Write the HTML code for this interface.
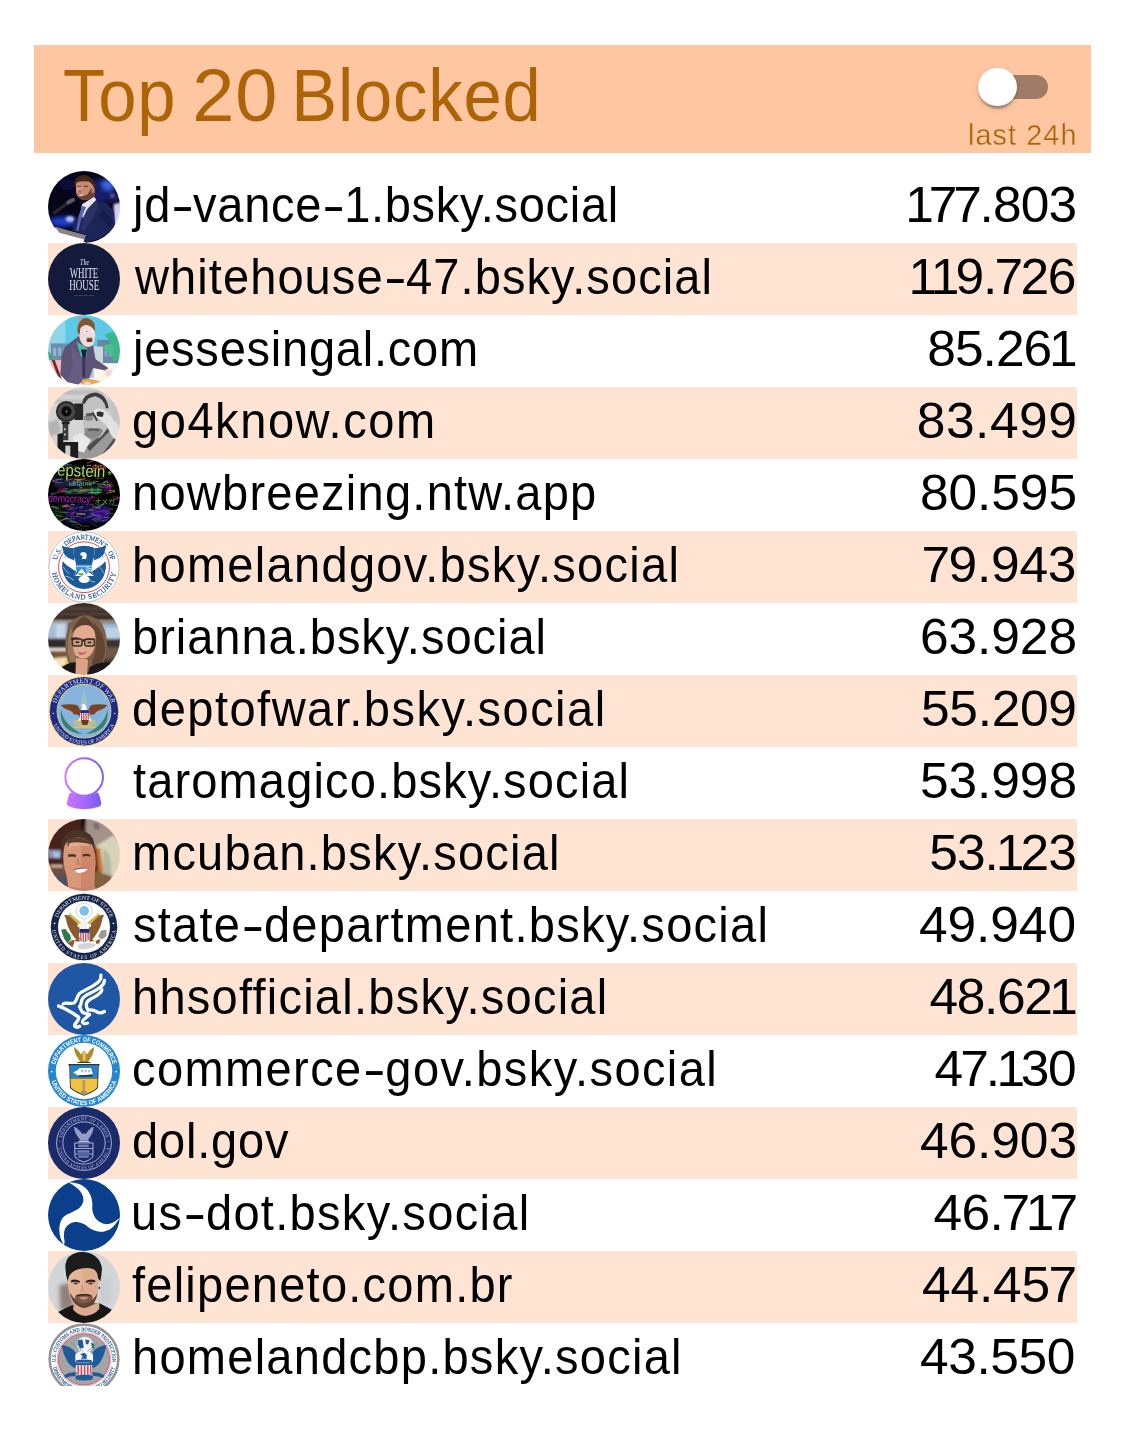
<!DOCTYPE html>
<html lang="en">
<head>
<meta charset="utf-8">
<title>Top 20 Blocked</title>
<meta name="viewport" content="width=1125">
<style>
html,body{margin:0;padding:0;background:#fff;}
body{width:1125px;height:1430px;position:relative;overflow:hidden;font-family:"Liberation Sans",sans-serif;color:#000;}
.hd{position:absolute;left:34px;top:45px;width:1057px;height:108px;background:#ffc6a2;}
.ttl{position:absolute;left:63.4px;top:45.7px;margin:0;font-weight:400;font-size:74px;line-height:100px;color:#ad6406;white-space:nowrap;letter-spacing:0.8px;word-spacing:0px;transform:scaleX(0.93);transform-origin:0 50%;}
.sw{position:absolute;left:978px;top:67px;width:70px;height:40px;}
.sw .tr{position:absolute;left:7.3px;top:8.1px;width:62.4px;height:23.5px;border-radius:12px;background:#9f7c66;}
.sw .th{position:absolute;left:0;top:0.5px;width:38.8px;height:38.8px;border-radius:50%;background:#fff;box-shadow:0 4.8px 2.4px -2.4px rgba(0,0,0,.2),0 2.4px 2.4px 0 rgba(0,0,0,.14),0 2.4px 7.2px 0 rgba(0,0,0,.12);}
.lbl{position:absolute;right:47.4px;top:118.8px;font-size:28.8px;line-height:32px;color:#ad6406;white-space:nowrap;letter-spacing:1.1px;-webkit-text-stroke:.35px #ffc6a2;}
ul{list-style:none;margin:0;padding:0;position:absolute;left:48px;top:171px;width:1029px;}
li{position:relative;height:72px;width:1029px;}
li:nth-child(even){background:#ffe3d3;}
li svg{position:absolute;left:0;top:0;width:72px;height:72px;display:block;border-radius:50%;overflow:hidden;}
.defs{position:absolute;width:0;height:0;overflow:hidden;}
.cut{position:absolute;left:0;top:1386px;width:1125px;height:44px;background:#fff;}
li .h{position:absolute;top:-2.3px;line-height:72px;font-size:49.5px;white-space:nowrap;transform:scaleX(0.95);transform-origin:0 50%;}
li .n{position:absolute;top:-2.3px;line-height:72px;font-size:49.5px;white-space:nowrap;transform:scaleX(1.04);transform-origin:100% 50%;}
li .hy{display:inline-block;transform:scaleX(1.45);transform-origin:35% 50%;margin:0 2.6px 0 3.4px;}
li .n .d1{margin:0 -2.6px 0 -2.2px;}
li .n .d7{margin:0 -1.5px;}
</style>
</head>
<body>
<svg class="defs" width="0" height="0" aria-hidden="true"><defs><filter id="b4" x="-20%" y="-20%" width="140%" height="140%"><feGaussianBlur stdDeviation="4"/></filter><filter id="b8" x="-20%" y="-20%" width="140%" height="140%"><feGaussianBlur stdDeviation="8"/></filter><filter id="b14" x="-30%" y="-30%" width="160%" height="160%"><feGaussianBlur stdDeviation="14"/></filter><filter id="b30" x="-50%" y="-50%" width="200%" height="200%"><feGaussianBlur stdDeviation="30"/></filter></defs></svg>
<header class="hd"></header>
<h1 class="ttl">Top <span style="display:inline-block;transform:scaleX(1.1);transform-origin:0 50%;margin-left:-4.2px;margin-right:1.4px">20</span> Blocked</h1>
<div class="sw"><span class="tr"></span><span class="th"></span></div>
<div class="lbl">last 24h</div>
<ul>
<li><svg viewBox="0 0 72 72" role="img" aria-label="jd-vance-1 avatar"><g transform="translate(-4 -4) scale(.071111)" opacity=".999">
<rect width="1125" height="1125" fill="#06051a"/>
<g filter="url(#b30)">
<ellipse cx="800" cy="330" rx="220" ry="170" fill="#121a68"/>
<ellipse cx="330" cy="250" rx="110" ry="80" fill="#0a0e40"/>
<ellipse cx="900" cy="250" rx="85" ry="75" fill="#3a68e8"/>
<ellipse cx="270" cy="770" rx="200" ry="70" fill="#1a3cd0"/>
<ellipse cx="980" cy="430" rx="100" ry="70" fill="#1a1c60"/>
</g>
<g filter="url(#b14)">
<path d="M980 520 L1090 500 L1090 860 L980 860Z" fill="#d4ccf6"/>
<ellipse cx="365" cy="730" rx="60" ry="42" fill="#b4bcf4"/>
<ellipse cx="960" cy="405" rx="30" ry="28" fill="#6a6a90"/>
</g>
<g filter="url(#b8)">
<path d="M100 840 L590 965 L575 1125 L0 1125 L0 900Z" fill="#fff"/>
<path d="M150 835 L592 962 L582 1022 L215 925Z" fill="#8c8288"/>
<path d="M735 452 L900 520 L985 630 L1000 800 L960 905 L800 1000 L610 1062 L555 1050 L590 960 L400 900 L415 770 L475 690 L540 560 L640 505Z" fill="#1f2756"/>
<path d="M640 505 L735 452 L760 560 L700 700 L560 900 L520 880 L560 700Z" fill="#2c3268"/>
<path d="M800 600 Q900 640 960 760 L940 880 Q860 760 780 720Z" fill="#191f48"/>
<path d="M535 525 L705 420 L735 460 L610 590 L545 720 L520 610Z" fill="#e6e6f0"/>
<path d="M535 548 L592 562 L525 720 L485 900 L450 888 L498 660Z" fill="#5c62b4"/>
<path d="M150 640 L395 460" stroke="#2c272c" stroke-width="46" stroke-linecap="round" fill="none"/>
<path d="M340 500 L410 462" stroke="#5e565e" stroke-width="56" stroke-linecap="round" fill="none"/>
<path d="M445 250 Q450 170 560 160 Q680 170 705 290 L710 400 Q650 470 545 462 Q480 440 455 380Z" fill="#c48a72"/>
<path d="M470 370 Q520 430 610 385 L660 310 L705 290 L712 400 Q645 475 545 465 Q485 440 470 370Z" fill="#6a4232"/>
<path d="M425 220 Q440 130 560 110 Q680 128 725 240 L722 330 Q700 250 630 205 Q530 190 460 215 L442 290Z" fill="#432618"/>
<ellipse cx="690" cy="330" rx="24" ry="40" fill="#b87a64"/>
<ellipse cx="495" cy="320" rx="38" ry="46" fill="#d69c86"/>
<ellipse cx="505" cy="345" rx="24" ry="20" fill="#c4566a"/>
<path d="M480 385 Q520 410 570 380 Q530 425 490 405Z" fill="#f4eeee"/>
<path d="M470 270 h50 v12 h-50z M560 262 h60 v14 h-60z" fill="#4a2e22"/>
</g>
</g></svg><span class="h" style="left:84.6px;letter-spacing:0.74px">jd<span class="hy">-</span>vance<span class="hy">-</span>1.bsky.social</span><span class="n" style="right:0.6px;letter-spacing:-0.857px"><span class="d1">1</span><span class="d7">7</span><span class="d7">7</span>.803</span></li>
<li><svg viewBox="0 0 72 72" role="img" aria-label="whitehouse-47 avatar"><g opacity=".999">
<rect width="72" height="72" fill="#131a3b"/>
<g fill="#e4e4ee" font-family="'Liberation Serif',serif" text-anchor="middle">
<text x="36.6" y="21.7" font-size="8.8" font-style="italic" textLength="9" lengthAdjust="spacingAndGlyphs">The</text>
<text x="36" y="35.2" font-size="15.2" textLength="28.6" lengthAdjust="spacingAndGlyphs">WHITE</text>
<text x="36.2" y="47" font-size="15" textLength="30" lengthAdjust="spacingAndGlyphs">HOUSE</text>
<text x="36.2" y="52.8" font-size="2.7" textLength="19.8" lengthAdjust="spacing" fill="#a9acc2">WASHINGTON</text>
</g>
</g></svg><span class="h" style="left:86.6px;letter-spacing:1.131px">whitehouse<span class="hy">-</span>47.bsky.social</span><span class="n" style="right:1.6px;letter-spacing:-1.162px"><span class="d1">1</span><span class="d1">1</span>9.<span class="d7">7</span>26</span></li>
<li><svg viewBox="0 0 72 72" role="img" aria-label="jessesingal avatar"><g transform="translate(-4 -4) scale(.071111)" opacity=".999">
<rect width="1125" height="1125" fill="#5ec9e6"/>
<rect x="0" y="0" width="300" height="1125" fill="#8fd6ea"/>
<rect x="480" y="40" width="50" height="500" fill="#9aa8b8"/>
<g filter="url(#b4)">
<path d="M95 455 L330 455 L330 720 L95 720Z" fill="#6d8fb0"/>
<path d="M130 520 h40 v110 h-40z M200 520 h40 v110 h-40z" fill="#9bb4cc"/>
<path d="M750 405 L1080 405 L1080 730 L750 730Z" fill="#6a86a4"/>
<path d="M700 500 L830 500 L830 730 L700 730Z" fill="#c9d6dc"/>
<path d="M850 560 h40 v80 h-40z M910 560 h40 v80 h-40z" fill="#8ea6c4"/>
<path d="M850 335 Q930 290 1000 310 Q1060 400 1080 560 L1080 700 L960 700 Q990 560 930 440 Q900 380 850 335Z" fill="#3db689"/>
<path d="M820 520 Q900 440 960 470 Q990 560 960 650 Q900 560 820 520Z" fill="#49bf90"/>
<path d="M40 560 Q100 580 130 680 L60 700Z" fill="#3aa884"/>
<path d="M0 690 L260 690 L260 1000 L0 1000Z" fill="#f3b6bd"/>
<path d="M200 880 L360 980 L360 1060 L200 1060Z" fill="#fff"/>
<path d="M110 690 L150 690 L250 960 L210 960Z" fill="#6a2a20"/>
<path d="M700 735 L1125 735 L1125 1125 L600 1125 L640 960Z" fill="#fdf6ea"/>
<path d="M640 770 h60 v170 h-60z" fill="#b8c4d4"/>
<path d="M0 1000 L1125 1000 L1125 1125 L0 1125Z" fill="#fff"/>
<path d="M490 350 L300 500 L245 640 L230 900 L330 1000 L480 1035 L560 965 L640 940 L690 800 L870 835 L905 800 L725 680 L690 490 L570 450Z" fill="#5c5478"/>
<path d="M380 480 L520 660 L540 1000 L480 1030 L330 1000 L400 800Z" fill="#665c84"/>
<path d="M455 430 L610 520 L600 640 L520 650Z" fill="#4fb9a7"/>
<path d="M520 540 L605 540 L585 650 L545 660Z" fill="#14203c"/>
<path d="M540 650 h40 v280 h-40z" fill="#3a3458"/>
<path d="M870 815 L960 830 L950 900 L890 930 L860 880Z" fill="#f1d9d6"/>
<path d="M540 960 L680 960 L800 990 L640 1040 L520 1030Z" fill="#eea44a"/>
<path d="M560 990 L660 1000 L640 1050 L580 1040Z" fill="#f1d9d6"/>
<path d="M500 230 Q520 180 620 200 Q720 230 720 340 Q710 440 690 470 Q640 520 590 500 Q520 470 500 380Z" fill="#f3dada"/>
<path d="M470 300 Q460 160 560 100 Q660 90 710 180 L720 300 Q690 220 620 200 Q540 190 510 250 L500 330Z" fill="#7b5832"/>
<path d="M600 385 Q640 360 680 385 L680 430 Q640 445 600 430Z" fill="#5a3a30"/>
<path d="M595 375 Q640 345 690 380 L690 395 Q640 370 595 395Z" fill="#c8b090"/>
<ellipse cx="600" cy="285" rx="28" ry="16" fill="#fff"/>
<ellipse cx="603" cy="287" rx="10" ry="10" fill="#444"/>
<ellipse cx="685" cy="290" rx="20" ry="14" fill="#fff"/>
</g>
</g></svg><span class="h" style="left:85.0px;letter-spacing:0.792px">jessesingal.com</span><span class="n" style="right:3.6px;letter-spacing:-0.969px">85.26<span class="d1">1</span></span></li>
<li><svg viewBox="0 0 72 72" role="img" aria-label="go4know avatar"><g transform="translate(-4 -4) scale(.071111)" opacity=".999">
<rect width="1125" height="1125" fill="#d6d6d6"/>
<g filter="url(#b14)">
<path d="M60 100 h1000 v70 h-1000z M60 230 h500 v50 h-500z" fill="#bdbdbd"/>
<path d="M60 560 L200 500 L240 700 L60 760Z" fill="#b4b4b4"/>
<path d="M880 200 L1080 300 L1080 600 L950 500Z" fill="#c4c4c4"/>
</g>
<g filter="url(#b8)">
<path d="M560 720 L900 620 L1060 800 L1000 1000 L700 1080 L420 1080 L480 800Z" fill="#9a9a9a"/>
<path d="M600 900 L900 640 L940 660 L640 960Z M820 1000 L1000 760 L1030 790 L880 1020Z" fill="#4e4e4e"/>
<path d="M400 760 L520 700 L660 800 L560 980 L440 940Z" fill="#e9e9e9"/>
<path d="M545 250 Q560 150 720 140 Q880 160 905 330 L900 560 Q880 700 780 770 Q660 800 590 720 Q540 600 540 480Z" fill="#c2c2c2"/>
<path d="M560 470 Q600 440 680 450 L690 520 Q620 540 565 520Z" fill="#8a8a8a"/>
<path d="M570 640 Q640 620 700 640 Q780 620 830 660 Q810 760 700 785 Q610 775 570 710Z" fill="#8a8a8a"/>
<path d="M620 650 Q700 630 780 655 L770 680 Q700 660 630 680Z" fill="#5a5a5a"/>
<path d="M535 280 Q560 150 720 135 Q880 150 910 360 L870 350 Q840 210 720 185 Q600 200 570 300Z" fill="#3c3c3c"/>
<path d="M590 430 L680 420 L680 460 L600 470Z" fill="#555"/>
<path d="M700 380 Q800 330 880 400 Q960 500 1060 640 L1060 820 Q960 800 900 640 Q840 520 700 470Z" fill="#e2e2e2"/>
<path d="M740 410 Q790 390 840 420 L830 470 Q780 480 745 460Z" fill="#2e2e2e"/>
<path d="M690 400 L760 520 L740 540 L670 430Z" fill="#404040"/>
<rect x="425" y="290" width="125" height="230" rx="14" fill="#262626"/>
<circle cx="315" cy="400" r="148" fill="#2b2b2b"/>
<circle cx="315" cy="400" r="120" fill="#4a4646"/>
<circle cx="315" cy="400" r="72" fill="#0c0c0c"/>
<circle cx="318" cy="400" r="14" fill="#8a8a8a"/>
<rect x="250" y="540" width="110" height="40" fill="#222"/>
<rect x="262" y="575" width="80" height="230" fill="#3a3a3a"/>
<circle cx="292" cy="650" r="14" fill="#ddd"/><circle cx="292" cy="725" r="14" fill="#ddd"/>
<path d="M190 720 L270 700 L270 830 L480 830 L480 1060 L190 1060Z" fill="#1e1e1e"/>
<rect x="300" y="880" width="70" height="200" fill="#d0d0d0"/>
</g>
</g></svg><span class="h" style="left:84.4px;letter-spacing:1.636px">go4know.com</span><span class="n" style="right:-0.4px;letter-spacing:0.489px">83.499</span></li>
<li><svg viewBox="0 0 72 72" role="img" aria-label="nowbreezing avatar"><g opacity=".999">
<rect width="72" height="72" fill="#030303"/>
<g transform="translate(-4 -4) scale(.071111)" filter="url(#b14)">
<path d="M280 680 L900 700 L920 940 L300 960Z" fill="#150a5c" opacity=".8"/>
<path d="M640 760 L940 740 L900 900 L660 880Z" fill="#3a0a7a"/>
<path d="M140 360 L560 350 L560 430 L140 450Z" fill="#14204a"/>
<path d="M280 480 L800 440 L820 540 L300 560Z" fill="#123a24"/>
<path d="M820 380 L960 360 L960 520 L840 520Z" fill="#40103a"/>
<path d="M200 460 L300 460 L300 520 L200 520Z" fill="#5a1414"/>
<path d="M300 320 L600 320 L600 350 L300 350Z" fill="#5a1a10"/>
<path d="M100 700 L260 700 L260 1000 L100 1000Z" fill="#101a10"/>
</g>
<g fill="none" opacity=".8">
<path d="M31.0 39.8 L40.4 39.5" stroke="#c84a8a" stroke-width="1.0" stroke-dasharray="0.6 0.5"/>
<path d="M42.3 54.8 L45.9 54.1" stroke="#e08a3a" stroke-width="0.8" stroke-dasharray="0.9 0.4"/>
<path d="M31.0 51.3 L38.5 52.2" stroke="#c84a8a" stroke-width="0.8" stroke-dasharray="0.5 0.4"/>
<path d="M17.5 5.9 L23.7 5.6" stroke="#3aaae0" stroke-width="1.0" stroke-dasharray="0.9 0.4"/>
<path d="M44.4 33.3 L48.8 35.6" stroke="#e08a3a" stroke-width="1.2" stroke-dasharray="0.7 0.4"/>
<path d="M20.5 8.5 L28.8 7.7" stroke="#3ad05a" stroke-width="1.6" stroke-dasharray="0.5 0.3"/>
<path d="M45.8 17.7 L54.4 13.6" stroke="#3a5ad0" stroke-width="1.6" stroke-dasharray="0.8 0.5"/>
<path d="M14.7 47.2 L20.0 46.2" stroke="#c8c86a" stroke-width="1.6" stroke-dasharray="1.0 0.3"/>
<path d="M17.8 10.5 L21.0 11.4" stroke="#a03ac8" stroke-width="1.0" stroke-dasharray="0.8 0.4"/>
<path d="M48.8 12.4 L55.8 9.6" stroke="#e03a4a" stroke-width="1.0" stroke-dasharray="0.5 0.6"/>
<path d="M64.4 41.9 L73.3 37.4" stroke="#a03ac8" stroke-width="1.6" stroke-dasharray="1.2 0.5"/>
<path d="M38.9 6.7 L42.9 6.5" stroke="#c8c86a" stroke-width="1.2" stroke-dasharray="1.1 0.4"/>
<path d="M6.8 17.4 L13.4 14.0" stroke="#4ab05a" stroke-width="1.2" stroke-dasharray="0.9 0.3"/>
<path d="M39.6 57.3 L43.5 56.8" stroke="#40c0a0" stroke-width="1.0" stroke-dasharray="0.7 0.4"/>
<path d="M41.1 50.4 L45.1 50.9" stroke="#4a9a6a" stroke-width="1.0" stroke-dasharray="1.0 0.4"/>
<path d="M32.9 9.0 L36.0 7.8" stroke="#c84a8a" stroke-width="1.2" stroke-dasharray="0.7 0.5"/>
<path d="M18.4 56.7 L25.5 55.3" stroke="#a03ac8" stroke-width="0.8" stroke-dasharray="0.6 0.4"/>
<path d="M43.8 43.4 L47.2 42.4" stroke="#3aaae0" stroke-width="0.8" stroke-dasharray="0.5 0.4"/>
<path d="M17.9 7.0 L22.9 7.1" stroke="#a8d04a" stroke-width="0.8" stroke-dasharray="0.8 0.6"/>
<path d="M64.8 46.0 L72.6 46.7" stroke="#a8d04a" stroke-width="0.8" stroke-dasharray="1.1 0.4"/>
<path d="M24.9 24.0 L28.1 24.3" stroke="#e08a3a" stroke-width="1.6" stroke-dasharray="0.5 0.4"/>
<path d="M31.0 27.5 L34.0 28.9" stroke="#a8d04a" stroke-width="1.2" stroke-dasharray="0.7 0.5"/>
<path d="M28.7 54.6 L37.7 55.2" stroke="#e0c040" stroke-width="1.6" stroke-dasharray="0.8 0.3"/>
<path d="M9.4 20.5 L15.2 19.5" stroke="#bdbdbd" stroke-width="1.6" stroke-dasharray="0.8 0.6"/>
<path d="M7.4 52.0 L10.6 52.3" stroke="#5ab03a" stroke-width="0.8" stroke-dasharray="0.7 0.5"/>
<path d="M33.8 43.3 L43.0 41.1" stroke="#c8c86a" stroke-width="1.2" stroke-dasharray="0.7 0.5"/>
<path d="M15.0 14.9 L24.2 16.3" stroke="#6a4ad8" stroke-width="1.6" stroke-dasharray="1.1 0.4"/>
<path d="M44.6 16.7 L50.4 18.5" stroke="#3aaae0" stroke-width="1.0" stroke-dasharray="0.8 0.5"/>
<path d="M22.3 12.7 L28.4 14.8" stroke="#e0503a" stroke-width="0.8" stroke-dasharray="1.2 0.4"/>
<path d="M12.8 32.8 L17.6 31.5" stroke="#e03a4a" stroke-width="1.6" stroke-dasharray="0.9 0.4"/>
<path d="M22.2 57.7 L32.0 57.2" stroke="#e08a3a" stroke-width="0.8" stroke-dasharray="0.7 0.5"/>
<path d="M45.4 22.0 L50.8 22.8" stroke="#bdbdbd" stroke-width="0.8" stroke-dasharray="0.9 0.4"/>
<path d="M14.2 53.2 L18.8 54.5" stroke="#e0503a" stroke-width="0.8" stroke-dasharray="0.8 0.5"/>
<path d="M43.9 55.7 L53.5 57.4" stroke="#3aaae0" stroke-width="1.6" stroke-dasharray="0.7 0.5"/>
<path d="M50.3 38.2 L53.5 37.4" stroke="#4ab05a" stroke-width="1.0" stroke-dasharray="0.8 0.5"/>
<path d="M61.7 50.2 L65.6 50.1" stroke="#40c0a0" stroke-width="0.8" stroke-dasharray="0.8 0.5"/>
<path d="M58.3 55.0 L67.9 54.7" stroke="#40c0a0" stroke-width="1.0" stroke-dasharray="0.6 0.6"/>
<path d="M53.1 63.2 L56.8 62.2" stroke="#3a5ad0" stroke-width="0.8" stroke-dasharray="1.2 0.5"/>
<path d="M52.6 24.5 L61.4 27.7" stroke="#4ab05a" stroke-width="0.8" stroke-dasharray="0.5 0.4"/>
<path d="M29.0 21.6 L38.1 19.1" stroke="#e08a3a" stroke-width="1.6" stroke-dasharray="1.1 0.4"/>
<path d="M23.4 54.4 L27.2 53.1" stroke="#c84a8a" stroke-width="1.6" stroke-dasharray="1.2 0.4"/>
<path d="M16.2 37.7 L21.1 38.8" stroke="#40c0a0" stroke-width="1.0" stroke-dasharray="0.9 0.6"/>
<path d="M37.8 23.9 L43.2 25.8" stroke="#e0c040" stroke-width="1.0" stroke-dasharray="0.7 0.3"/>
<path d="M36.9 21.5 L43.3 20.9" stroke="#4cb04c" stroke-width="0.8" stroke-dasharray="0.9 0.3"/>
<path d="M64.0 37.0 L69.6 38.7" stroke="#bdbdbd" stroke-width="0.8" stroke-dasharray="0.8 0.5"/>
<path d="M6.2 38.5 L11.5 41.0" stroke="#3a5ad0" stroke-width="1.2" stroke-dasharray="0.7 0.4"/>
<path d="M23.7 61.7 L32.5 65.5" stroke="#c84a8a" stroke-width="1.2" stroke-dasharray="0.6 0.4"/>
<path d="M3.9 20.7 L11.0 24.2" stroke="#e0503a" stroke-width="1.0" stroke-dasharray="0.6 0.3"/>
<path d="M20.2 50.3 L24.9 50.3" stroke="#5ab03a" stroke-width="0.8" stroke-dasharray="1.1 0.5"/>
<path d="M47.9 48.9 L56.1 44.8" stroke="#40c0a0" stroke-width="1.6" stroke-dasharray="1.1 0.5"/>
<path d="M36.4 59.3 L42.9 57.5" stroke="#3aaae0" stroke-width="1.0" stroke-dasharray="0.7 0.5"/>
<path d="M53.9 61.8 L59.0 60.8" stroke="#3aaae0" stroke-width="1.0" stroke-dasharray="1.0 0.4"/>
<path d="M26.8 31.8 L36.4 32.2" stroke="#a8d04a" stroke-width="1.0" stroke-dasharray="0.8 0.5"/>
<path d="M45.7 62.3 L54.8 58.7" stroke="#c84a8a" stroke-width="1.2" stroke-dasharray="0.9 0.5"/>
<path d="M14.1 8.5 L17.5 6.9" stroke="#4a9a6a" stroke-width="1.6" stroke-dasharray="0.6 0.4"/>
<path d="M15.1 57.8 L24.1 61.8" stroke="#4cb04c" stroke-width="0.8" stroke-dasharray="0.6 0.5"/>
<path d="M27.0 31.3 L32.3 29.8" stroke="#4ab05a" stroke-width="0.8" stroke-dasharray="0.9 0.3"/>
<path d="M14.8 30.1 L20.3 29.4" stroke="#3aaae0" stroke-width="1.0" stroke-dasharray="0.6 0.5"/>
<path d="M22.7 9.4 L31.0 12.6" stroke="#40c0a0" stroke-width="1.6" stroke-dasharray="0.9 0.4"/>
<path d="M39.4 25.8 L47.6 24.0" stroke="#4cb04c" stroke-width="1.0" stroke-dasharray="1.1 0.4"/>
<path d="M46.5 53.1 L54.8 52.3" stroke="#a03ac8" stroke-width="0.8" stroke-dasharray="1.1 0.4"/>
<path d="M5.2 21.5 L14.7 19.6" stroke="#3aaae0" stroke-width="1.6" stroke-dasharray="0.9 0.5"/>
<path d="M26.9 68.0 L34.3 69.5" stroke="#3a5ad0" stroke-width="0.8" stroke-dasharray="0.6 0.3"/>
<path d="M17.2 32.4 L23.5 34.0" stroke="#40c0a0" stroke-width="1.6" stroke-dasharray="0.5 0.4"/>
<path d="M19.6 25.8 L26.4 25.3" stroke="#c84a8a" stroke-width="0.8" stroke-dasharray="0.9 0.5"/>
<path d="M6.9 42.2 L14.4 38.7" stroke="#a03ac8" stroke-width="1.6" stroke-dasharray="0.8 0.4"/>
<path d="M33.7 43.1 L36.8 44.6" stroke="#e03a4a" stroke-width="1.2" stroke-dasharray="0.9 0.5"/>
<path d="M25.4 22.3 L33.0 22.7" stroke="#3ad05a" stroke-width="1.2" stroke-dasharray="0.5 0.5"/>
<path d="M39.5 44.5 L45.3 45.6" stroke="#e0503a" stroke-width="1.2" stroke-dasharray="1.0 0.3"/>
<path d="M29.5 34.6 L39.0 32.1" stroke="#c84a8a" stroke-width="0.8" stroke-dasharray="1.2 0.5"/>
<path d="M32.0 66.6 L40.6 67.5" stroke="#4cb04c" stroke-width="0.8" stroke-dasharray="0.9 0.4"/>
<path d="M15.0 7.3 L21.3 4.9" stroke="#6a4ad8" stroke-width="1.0" stroke-dasharray="1.0 0.4"/>
<path d="M18.8 41.3 L24.5 42.9" stroke="#c84a8a" stroke-width="1.0" stroke-dasharray="1.2 0.5"/>
<path d="M17.3 11.3 L26.2 13.8" stroke="#e0c040" stroke-width="1.2" stroke-dasharray="0.7 0.5"/>
<path d="M48.4 48.7 L52.6 47.8" stroke="#c04a3a" stroke-width="1.0" stroke-dasharray="1.2 0.5"/>
<path d="M43.8 16.5 L51.5 17.5" stroke="#c8c86a" stroke-width="1.2" stroke-dasharray="0.7 0.3"/>
<path d="M4.4 18.2 L9.2 19.5" stroke="#a03ac8" stroke-width="1.0" stroke-dasharray="0.9 0.4"/>
<path d="M32.6 17.5 L37.9 18.8" stroke="#e08a3a" stroke-width="0.8" stroke-dasharray="0.8 0.5"/>
<path d="M55.6 53.2 L61.6 54.7" stroke="#3a5ad0" stroke-width="1.0" stroke-dasharray="0.8 0.5"/>
<path d="M37.1 51.8 L46.5 51.1" stroke="#4ab05a" stroke-width="0.8" stroke-dasharray="0.8 0.4"/>
<path d="M36.8 31.6 L43.4 33.8" stroke="#6a4ad8" stroke-width="1.2" stroke-dasharray="1.1 0.3"/>
<path d="M21.8 62.3 L28.9 63.7" stroke="#5ab03a" stroke-width="1.2" stroke-dasharray="0.7 0.3"/>
<path d="M24.9 50.5 L30.1 48.4" stroke="#6a4ad8" stroke-width="1.2" stroke-dasharray="0.8 0.5"/>
<path d="M21.5 24.3 L26.8 26.7" stroke="#c84a8a" stroke-width="1.0" stroke-dasharray="0.6 0.5"/>
<path d="M3.5 47.3 L10.3 49.4" stroke="#bdbdbd" stroke-width="1.2" stroke-dasharray="1.1 0.5"/>
<path d="M55.5 40.0 L59.6 41.1" stroke="#3ad05a" stroke-width="0.8" stroke-dasharray="0.7 0.3"/>
<path d="M12.2 22.9 L15.1 24.0" stroke="#e03a4a" stroke-width="0.8" stroke-dasharray="0.9 0.4"/>
<path d="M36.9 25.4 L41.5 23.6" stroke="#d05ae0" stroke-width="0.8" stroke-dasharray="0.5 0.5"/>
<path d="M8.2 56.2 L14.1 57.5" stroke="#5ab03a" stroke-width="1.2" stroke-dasharray="1.0 0.4"/>
<path d="M23.6 66.0 L31.3 65.9" stroke="#4a9a6a" stroke-width="0.8" stroke-dasharray="1.0 0.6"/>
<path d="M28.3 56.9 L35.5 59.5" stroke="#3a5ad0" stroke-width="0.8" stroke-dasharray="1.1 0.6"/>
<path d="M43.0 37.5 L50.6 39.8" stroke="#e03a4a" stroke-width="1.6" stroke-dasharray="1.1 0.4"/>
<path d="M12.4 44.7 L20.1 43.3" stroke="#3a5ad0" stroke-width="1.6" stroke-dasharray="0.9 0.4"/>
<path d="M58.7 34.2 L66.7 32.6" stroke="#a8d04a" stroke-width="1.0" stroke-dasharray="1.1 0.5"/>
<path d="M3.1 34.8 L11.6 33.2" stroke="#3aaae0" stroke-width="1.0" stroke-dasharray="0.8 0.5"/>
<path d="M40.4 34.2 L47.0 33.8" stroke="#7a3ae8" stroke-width="1.6" stroke-dasharray="0.6 0.5"/>
<path d="M22.0 39.1 L30.7 38.9" stroke="#7a3ae8" stroke-width="1.6" stroke-dasharray="1.1 0.6"/>
<path d="M23.9 39.0 L33.6 38.9" stroke="#c04a3a" stroke-width="1.6" stroke-dasharray="0.5 0.6"/>
<path d="M53.3 28.6 L60.0 28.7" stroke="#7a3ae8" stroke-width="0.8" stroke-dasharray="1.0 0.4"/>
<path d="M2.7 34.2 L8.1 35.9" stroke="#e03a4a" stroke-width="1.0" stroke-dasharray="0.8 0.5"/>
<path d="M11.3 62.1 L19.4 59.1" stroke="#e0c040" stroke-width="1.2" stroke-dasharray="0.9 0.3"/>
<path d="M38.6 15.4 L42.7 17.2" stroke="#a8d04a" stroke-width="1.0" stroke-dasharray="0.6 0.4"/>
<path d="M47.9 10.2 L54.2 10.0" stroke="#bdbdbd" stroke-width="1.2" stroke-dasharray="0.5 0.4"/>
<path d="M14.4 47.7 L22.8 47.2" stroke="#e0503a" stroke-width="1.6" stroke-dasharray="0.9 0.3"/>
<path d="M55.2 23.9 L60.0 21.8" stroke="#3ad05a" stroke-width="1.6" stroke-dasharray="1.0 0.3"/>
<path d="M44.7 47.3 L52.6 49.5" stroke="#4cb04c" stroke-width="1.6" stroke-dasharray="0.5 0.4"/>
<path d="M47.4 19.2 L54.4 18.9" stroke="#c8c86a" stroke-width="1.0" stroke-dasharray="1.1 0.3"/>
<path d="M42.2 64.0 L49.6 67.5" stroke="#3a5ad0" stroke-width="0.8" stroke-dasharray="0.7 0.4"/>
<path d="M48.8 25.1 L58.4 25.7" stroke="#40c0a0" stroke-width="1.2" stroke-dasharray="0.8 0.4"/>
<path d="M8.5 43.8 L12.4 44.3" stroke="#a03ac8" stroke-width="1.0" stroke-dasharray="0.6 0.3"/>
<path d="M31.6 49.1 L35.0 47.4" stroke="#4cb04c" stroke-width="1.6" stroke-dasharray="0.8 0.3"/>
<path d="M60.9 31.3 L67.4 32.3" stroke="#a8d04a" stroke-width="1.6" stroke-dasharray="0.8 0.6"/>
<path d="M41.9 50.5 L49.0 49.2" stroke="#c04a3a" stroke-width="0.8" stroke-dasharray="0.7 0.4"/>
<path d="M21.6 32.2 L28.2 30.3" stroke="#d05ae0" stroke-width="1.2" stroke-dasharray="1.1 0.5"/>
<path d="M12.1 53.1 L21.4 53.5" stroke="#4ab05a" stroke-width="1.0" stroke-dasharray="0.9 0.4"/>
<path d="M47.2 63.9 L53.5 60.8" stroke="#3aaae0" stroke-width="0.8" stroke-dasharray="0.6 0.4"/>
<path d="M28.7 25.3 L32.1 26.6" stroke="#7a3ae8" stroke-width="1.6" stroke-dasharray="1.1 0.4"/>
<path d="M48.7 19.3 L55.7 19.6" stroke="#e08a3a" stroke-width="1.2" stroke-dasharray="0.6 0.5"/>
<path d="M59.4 25.4 L63.1 27.1" stroke="#c8c86a" stroke-width="1.2" stroke-dasharray="1.0 0.4"/>
<path d="M50.5 27.2 L54.7 27.6" stroke="#e08a3a" stroke-width="1.6" stroke-dasharray="0.5 0.4"/>
<path d="M44.1 23.7 L51.6 25.5" stroke="#3a5ad0" stroke-width="0.8" stroke-dasharray="0.6 0.4"/>
<path d="M4.1 37.8 L7.9 37.4" stroke="#d05ae0" stroke-width="1.0" stroke-dasharray="0.7 0.5"/>
<path d="M23.3 45.1 L26.5 45.6" stroke="#a8d04a" stroke-width="1.6" stroke-dasharray="1.2 0.5"/>
<path d="M32.1 30.3 L39.3 31.7" stroke="#e03a4a" stroke-width="1.2" stroke-dasharray="0.8 0.6"/>
<path d="M55.6 58.7 L61.5 58.3" stroke="#bdbdbd" stroke-width="0.8" stroke-dasharray="1.1 0.5"/>
<path d="M35.6 31.7 L44.8 30.0" stroke="#e0503a" stroke-width="1.2" stroke-dasharray="1.0 0.6"/>
<path d="M48.8 42.2 L57.0 40.7" stroke="#bdbdbd" stroke-width="0.8" stroke-dasharray="0.7 0.6"/>
<path d="M17.5 59.9 L27.3 59.6" stroke="#4cb04c" stroke-width="1.0" stroke-dasharray="0.9 0.5"/>
<path d="M57.8 27.6 L64.6 28.0" stroke="#a03ac8" stroke-width="1.0" stroke-dasharray="1.0 0.4"/>
<path d="M35.3 12.3 L44.4 13.0" stroke="#6a4ad8" stroke-width="0.8" stroke-dasharray="0.7 0.5"/>
<path d="M30.2 32.8 L36.5 30.5" stroke="#bdbdbd" stroke-width="1.0" stroke-dasharray="0.5 0.3"/>
<path d="M59.5 23.7 L65.4 26.4" stroke="#5ab03a" stroke-width="1.0" stroke-dasharray="0.6 0.6"/>
<path d="M46.3 7.8 L51.2 9.6" stroke="#5ab03a" stroke-width="0.8" stroke-dasharray="0.6 0.6"/>
<path d="M42.5 16.3 L50.8 12.4" stroke="#4cb04c" stroke-width="1.2" stroke-dasharray="1.0 0.4"/>
<path d="M47.6 12.6 L54.8 15.9" stroke="#6a4ad8" stroke-width="1.6" stroke-dasharray="0.6 0.4"/>
<path d="M21.7 49.5 L25.8 48.1" stroke="#c04a3a" stroke-width="1.2" stroke-dasharray="1.1 0.4"/>
<path d="M44.4 60.6 L51.2 58.7" stroke="#3ad05a" stroke-width="1.0" stroke-dasharray="1.0 0.4"/>
<path d="M43.0 9.8 L52.8 9.2" stroke="#c84a8a" stroke-width="0.8" stroke-dasharray="0.9 0.3"/>
<path d="M40.4 22.2 L44.9 23.6" stroke="#e08a3a" stroke-width="1.0" stroke-dasharray="0.7 0.5"/>
<path d="M17.7 21.9 L24.3 19.8" stroke="#a8d04a" stroke-width="0.8" stroke-dasharray="0.9 0.6"/>
<path d="M39.4 4.2 L47.8 0.3" stroke="#e08a3a" stroke-width="1.2" stroke-dasharray="0.7 0.4"/>
<path d="M4.0 22.7 L12.8 23.8" stroke="#c84a8a" stroke-width="1.0" stroke-dasharray="0.9 0.5"/>
<path d="M9.2 31.9 L16.8 32.2" stroke="#7a3ae8" stroke-width="1.0" stroke-dasharray="0.7 0.5"/>
<path d="M56.6 42.6 L61.2 41.2" stroke="#e0503a" stroke-width="1.6" stroke-dasharray="1.1 0.4"/>
<path d="M33.8 31.8 L39.7 30.4" stroke="#c8c86a" stroke-width="0.8" stroke-dasharray="0.6 0.4"/>
<path d="M43.0 41.1 L50.9 42.1" stroke="#e0503a" stroke-width="1.2" stroke-dasharray="0.8 0.5"/>
<path d="M54.5 51.3 L62.6 53.4" stroke="#5ab03a" stroke-width="0.8" stroke-dasharray="1.0 0.5"/>
<path d="M26.2 19.9 L32.6 20.9" stroke="#e0c040" stroke-width="1.6" stroke-dasharray="0.5 0.4"/>
<path d="M25.3 17.8 L34.2 13.6" stroke="#5ab03a" stroke-width="1.0" stroke-dasharray="0.6 0.4"/>
<path d="M49.7 6.5 L54.0 8.3" stroke="#a8d04a" stroke-width="0.8" stroke-dasharray="0.8 0.4"/>
</g>
<path d="M41 31 h13 M42 33.5 h11 M44 29 v6 M50 29 v6" stroke="#35b063" stroke-width="1" fill="none"/>
<rect x="7" y="7.5" width="52" height="12" fill="#030303" opacity=".75"/>
<rect x="0" y="36" width="66" height="9" fill="#050308" opacity=".7"/>
<g font-family="'Liberation Sans','Noto Sans CJK JP',sans-serif">
<text x="9" y="16.6" font-size="17.2" fill="#aedb55" textLength="48.2" lengthAdjust="spacingAndGlyphs" transform="rotate(2.2 9 16.6)">epstein</text>
<text x="59.5" y="19.8" font-size="11" fill="#9ad23a">*</text>
<text x="44.2" y="9.8" font-size="6.8" font-weight="700" fill="#c4502c" textLength="13.6" lengthAdjust="spacingAndGlyphs">gaza</text>
<text x="20.8" y="27.2" font-size="6.9" fill="#46a888" textLength="26.5" lengthAdjust="spacingAndGlyphs">ukraine*</text>
<text x="0" y="43" font-size="11.4" fill="#a61fb6" textLength="45.8" lengthAdjust="spacingAndGlyphs" transform="rotate(1.2 0 43)">democracy*</text>
<text x="46.4" y="45.4" font-size="7.4" fill="#62b13c" textLength="20.6" lengthAdjust="spacingAndGlyphs">オメガ</text>
</g>
</g></svg><span class="h" style="left:84.0px;letter-spacing:1.311px">nowbreezing.ntw.app</span><span class="n" style="right:-0.4px;letter-spacing:-0.072px">80.595</span></li>
<li><svg viewBox="0 0 72 72" role="img" aria-label="homelandgov avatar"><g opacity=".999">
<rect width="72" height="72" fill="#fff"/>
<circle cx="36" cy="36" r="35.2" fill="#fff" stroke="#b9bcc4" stroke-width="1"/>
<circle cx="36" cy="36.2" r="25.4" fill="none" stroke="#c23a4c" stroke-width=".9"/>
<defs><path id="p6a" d="M8.2 36.2A27.8 27.8 0 0 1 63.8 36.2"/><path id="p6b" d="M3.6 36.2A32.4 32.4 0 0 0 68.4 36.2"/></defs>
<g font-family="'Liberation Serif',serif" font-size="7.6" fill="#1f4e8e" text-anchor="middle" stroke="#1f4e8e" stroke-width=".15">
<text word-spacing="3.4" font-size="7.1"><textPath href="#p6a" startOffset="50%" textLength="73" lengthAdjust="spacingAndGlyphs">U.S. DEPARTMENT OF</textPath></text>
<text font-size="7.3"><textPath href="#p6b" startOffset="50%" textLength="90" lengthAdjust="spacing">HOMELAND SECURITY</textPath></text>
</g>
<g transform="translate(-4 -4) scale(.071111)">
<circle cx="563" cy="567" r="304" fill="#1d5a9a"/>
<path d="M250 262 L300 285 L410 300 L435 480 L330 440 L285 380Z" fill="#1d5a9a"/>
<path d="M876 262 L826 285 L716 300 L691 480 L796 440 L841 380Z" fill="#1d5a9a"/>
<path d="M258 470 L420 300 L440 480 L470 610 L430 690 L330 600Z" fill="#fff"/>
<path d="M868 470 L706 300 L686 480 L656 610 L696 690 L796 600Z" fill="#fff"/>
<path d="M262 480 L310 530 L455 630 L420 700 L300 660 L255 580Z" fill="#1d5a9a"/>
<path d="M864 480 L816 530 L671 630 L706 700 L826 660 L871 580Z" fill="#1d5a9a"/>
<path d="M252 268 L412 312 L428 470 L330 430Z" fill="#1d5a9a"/>
<path d="M874 268 L714 312 L698 470 L796 430Z" fill="#1d5a9a"/>
<path d="M410 300 Q563 240 716 300 L700 440 L425 440Z" fill="#1d5a9a"/>
<path d="M510 395 Q505 350 560 350 Q610 360 600 420 L590 450 L530 450 L545 410Z" fill="#fff"/>
<path d="M452 460 L672 460 L672 610 L563 690 L452 610Z" fill="#3f8fce"/>
<path d="M452 460 L672 460 L672 530 L452 530Z" fill="#1d5a9a"/>
<path d="M455 545 h215 v14 h-215z" fill="#cfe3f3"/>
<path d="M440 690 L530 585 L590 660 L640 640 L700 690Z" fill="#fff"/>
<path d="M470 652 L560 652 L545 685 L500 680Z" fill="#5aa63c"/>
<path d="M590 580 q20 -14 40 0 t40 0 M590 610 q20 -14 40 0 t40 0 M595 640 q20 -14 40 0" stroke="#fff" stroke-width="12" fill="none"/>
<ellipse cx="565" cy="735" rx="78" ry="52" fill="#fff"/>
<path d="M300 690 q60 10 120 60 M640 750 q40 30 80 20" stroke="#cfe3f3" stroke-width="10" fill="none"/>
<path d="M270 560 q30 60 90 100 M780 560 q40 40 60 90" stroke="#9cc0e4" stroke-width="12" fill="none"/>
</g>
</g></svg><span class="h" style="left:84.0px;letter-spacing:1.365px">homelandgov.bsky.social</span><span class="n" style="right:0.6px;letter-spacing:-0.184px"><span class="d7">7</span>9.943</span></li>
<li><svg viewBox="0 0 72 72" role="img" aria-label="brianna avatar"><g transform="translate(-4 -4) scale(.071111)" opacity=".999">
<rect width="1125" height="1125" fill="#4a3a30"/>
<g filter="url(#b14)">
<rect x="0" y="0" width="1125" height="310" fill="#3b2d25"/>
<path d="M0 120 h1125 v30 h-1125z M0 200 h1125 v30 h-1125z" fill="#5a4a40"/>
<rect x="0" y="300" width="1125" height="30" fill="#b8a898"/>
<rect x="0" y="330" width="340" height="230" fill="#a9bcd2"/>
<rect x="170" y="350" width="120" height="190" fill="#c6d8ec"/>
<rect x="780" y="340" width="345" height="230" fill="#9fb6d0"/>
<rect x="860" y="400" width="200" height="150" fill="#bcd0e8"/>
<rect x="0" y="560" width="340" height="130" fill="#2e2a2a"/>
<rect x="780" y="570" width="345" height="110" fill="#3a3230"/>
<rect x="60" y="690" width="340" height="45" fill="#e6e0d4"/>
<rect x="0" y="735" width="420" height="90" fill="#7a5238"/>
<rect x="860" y="680" width="265" height="160" fill="#6a5a4a"/>
<path d="M130 830 L460 810 L460 880 L250 960 L130 960Z" fill="#f2e6b8"/>
<path d="M300 850 L420 830 L400 900 L300 930Z" fill="#e8c040"/>
</g>
<g filter="url(#b8)">
<path d="M560 230 Q390 250 330 430 Q280 600 310 770 Q330 910 420 1010 L730 1050 Q870 900 890 700 Q890 480 810 340 Q700 225 560 230Z" fill="#7e5e46"/>
<path d="M700 330 Q840 460 860 700 Q850 880 740 1010 L670 900 Q760 700 720 520Z" fill="#5f4430"/>
<path d="M380 400 Q320 560 340 760 Q360 900 430 990 L470 880 Q400 700 410 520Z" fill="#9a765a"/>
<path d="M250 960 Q400 860 480 900 L480 1125 L150 1125Z" fill="#151515"/>
<path d="M640 960 Q800 860 980 900 L1000 1125 L600 1125Z" fill="#1a1818"/>
<path d="M450 830 L620 850 L600 1125 L440 1125Z" fill="#dba287"/>
<path d="M520 350 Q425 380 400 540 Q395 700 445 790 Q520 860 600 830 Q700 770 720 640 Q740 480 680 400 Q620 340 520 350Z" fill="#e3ab8d"/>
<path d="M560 245 Q460 280 395 470 L470 400 Q540 350 640 372 L725 450 Q690 300 560 245Z" fill="#5a4030"/>
<path d="M380 545 Q470 520 540 570 Q620 540 720 560 L716 588 Q620 572 545 600 Q470 560 386 578Z" fill="#2e2420"/>
<rect x="398" y="562" width="138" height="98" rx="30" fill="#c99a80" stroke="#3e302a" stroke-width="20"/>
<rect x="572" y="566" width="138" height="94" rx="30" fill="#c99a80" stroke="#3e302a" stroke-width="20"/>
<ellipse cx="470" cy="608" rx="30" ry="14" fill="#3a2a24"/><ellipse cx="640" cy="610" rx="30" ry="14" fill="#3a2a24"/>
<path d="M470 745 Q540 770 610 740 Q560 795 500 785Z" fill="#c05a66"/>
</g>
</g></svg><span class="h" style="left:84.0px;letter-spacing:1.028px">brianna.bsky.social</span><span class="n" style="right:-0.4px;letter-spacing:-0.072px">63.928</span></li>
<li><svg viewBox="0 0 72 72" role="img" aria-label="deptofwar avatar"><g opacity=".999">
<circle cx="36" cy="36.2" r="35.2" fill="#f3dc7a"/>
<circle cx="36" cy="36.2" r="34.2" fill="#1b2a82"/>
<circle cx="36" cy="36.2" r="27.4" fill="#e9d27a"/>
<circle cx="36" cy="36.2" r="26.7" fill="#86b4dc"/>
<defs><path id="p8a" d="M7.4 36.2A28.6 28.6 0 0 1 64.6 36.2"/><path id="p8b" d="M2.9 36.2A33.1 33.1 0 0 0 69.1 36.2"/></defs>
<g font-family="'Liberation Serif',serif" fill="#e4e7f6" text-anchor="middle">
<text font-size="6.6"><textPath href="#p8a" startOffset="50%" textLength="74" lengthAdjust="spacing">DEPARTMENT OF WAR</textPath></text>
<text font-size="5.4"><textPath href="#p8b" startOffset="50%" textLength="76" lengthAdjust="spacingAndGlyphs">UNITED STATES OF AMERICA</textPath></text>
</g>
<circle cx="5.2" cy="38.4" r=".7" fill="#fff"/><circle cx="66.8" cy="38.4" r=".7" fill="#fff"/>
<g transform="translate(-4 -4) scale(.071111)">
<path d="M260 420 A310 310 0 0 1 870 420" fill="none" stroke="#d8d890" stroke-width="14" stroke-dasharray="14 22" opacity=".8"/>
<path d="M563 250 L520 470 L610 470Z" fill="#b8d0b0" opacity=".5"/>
<path d="M240 540 Q270 760 545 885 Q400 880 300 790 Q215 680 240 540Z" fill="#3b8062"/>
<path d="M890 540 Q860 760 585 885 Q730 880 830 790 Q915 680 890 540Z" fill="#3b8062"/>
<path d="M235 478 Q380 455 470 480 Q500 520 510 560 L505 640 Q470 600 420 610 Q400 560 330 545 Q270 520 235 478Z" fill="#7b4324"/>
<path d="M895 478 Q750 455 660 480 Q630 520 620 560 L625 640 Q660 600 710 610 Q730 560 800 545 Q860 520 895 478Z" fill="#7b4324"/>
<path d="M510 480 L545 465 Q590 460 600 520 L600 555 L520 555 L540 500Z" fill="#fff"/>
<path d="M505 478 L545 468 L545 490Z" fill="#e8c040"/>
<path d="M508 550 L640 550 L640 650 Q620 700 574 720 Q528 700 508 650Z" fill="#f4f0f0"/>
<path d="M508 550 L640 550 L640 590 L508 590Z" fill="#1b2a82"/>
<path d="M520 590 h16 v110 h-16z M552 590 h16 v125 h-16z M584 590 h16 v120 h-16z M614 590 h16 v90 h-16z" fill="#c4384a"/>
<path d="M470 700 L520 640 L520 720Z M680 700 L630 640 L630 720Z" fill="#f4f4f4"/>
<path d="M420 695 L730 695 L730 720 L420 720Z M420 740 L730 740 L730 760 L420 760Z M420 780 L560 760 L730 780 L730 800 L420 800Z" fill="#d9c060"/>
<path d="M520 690 L630 690 L610 760 L540 760Z" fill="#6a3a20"/>
</g>
</g></svg><span class="h" style="left:84.0px;letter-spacing:1.561px">deptofwar.bsky.social</span><span class="n" style="right:0.6px;letter-spacing:-0.296px">55.209</span></li>
<li><svg viewBox="0 0 72 72" role="img" aria-label="taromagico avatar"><g opacity=".999">
<rect width="72" height="72" fill="#fff"/>
<defs><linearGradient id="g9" x1="0" y1="0" x2="1" y2="0"><stop offset="0" stop-color="#cf74fb"/><stop offset="1" stop-color="#7a5cf8"/></linearGradient></defs>
<path d="M21.6 46.4 Q19.6 51 18.8 56.2 Q18.6 58.4 21 59.6 Q28 62.2 36.2 62.2 Q44.6 62.2 51.2 59.6 Q53.6 58.4 53.3 56.2 Q52.6 51 50.6 46.4 Q49.8 45.2 48.6 45.6 Q43 49.4 36.2 49.4 Q29.4 49.4 23.6 45.6 Q22.4 45.2 21.6 46.4Z" fill="url(#g9)"/>
<circle cx="36.2" cy="30" r="18.8" fill="none" stroke="url(#g9)" stroke-width="1.9"/>
</g></svg><span class="h" style="left:85.0px;letter-spacing:1.193px">taromagico.bsky.social</span><span class="n" style="right:-0.4px;letter-spacing:-0.072px">53.998</span></li>
<li><svg viewBox="0 0 72 72" role="img" aria-label="mcuban avatar"><g transform="translate(-4 -4) scale(.071111)" opacity=".999">
<rect width="1125" height="1125" fill="#4a2420"/>
<g filter="url(#b14)">
<path d="M0 0 L540 0 L520 300 L250 500 L0 520Z" fill="#45201e"/>
<path d="M520 40 L600 40 L570 200 L530 200Z" fill="#1a1010"/>
<path d="M590 40 L960 40 L990 270 L720 440 L580 300Z" fill="#a2928a"/>
<path d="M700 100 Q800 120 780 200 Q740 220 700 180Z" fill="#7a6e6a"/>
<path d="M720 440 L990 270 L1125 500 L1125 900 L830 900Z" fill="#d6d4b6"/>
<path d="M830 470 Q960 520 940 860 L830 860Z" fill="#b8b8a0"/>
<path d="M725 455 L790 470 L830 800 L760 800Z" fill="#c4702e"/>
<path d="M0 490 L240 490 L240 610 L0 610Z" fill="#8a8ea8"/>
<path d="M120 520 L230 520 L220 600 L140 600Z" fill="#a8c0e8"/>
<path d="M0 610 L260 610 L260 700 L0 700Z" fill="#4a2020"/>
<path d="M90 700 L270 700 L270 740 L90 740Z" fill="#d8c0a0"/>
<path d="M0 740 L340 740 L340 1125 L0 1125Z" fill="#6a5048"/>
<path d="M180 860 L340 860 L340 1125 L180 1125Z" fill="#505060"/>
<path d="M700 780 L960 860 L900 1125 L700 1125Z" fill="#80603c"/>
</g>
<g filter="url(#b8)">
<path d="M245 500 Q220 300 380 225 Q520 185 645 275 Q725 355 705 490 L650 410 Q500 310 345 365 L290 540Z" fill="#4a3226"/>
<path d="M290 430 Q340 310 500 315 Q660 335 700 480 Q740 620 720 760 Q700 900 720 1125 L340 1125 Q340 900 290 760 Q250 600 290 430Z" fill="#d9987a"/>
<path d="M520 322 Q660 342 700 500 Q730 640 710 780 L700 1125 L520 1125Z" fill="#cf876c"/>
<path d="M330 350 Q420 300 520 325 Q620 335 680 420 Q600 385 520 390 Q420 385 330 440Z" fill="#5a3c2e"/>
<path d="M350 400 Q430 370 520 390 Q600 395 660 440 Q600 430 520 430 Q430 425 350 470Z" fill="#e3ab8e"/>
<path d="M335 560 Q400 535 455 565 L450 592 Q400 572 340 592Z M540 560 Q600 530 655 565 L650 588 Q600 565 545 588Z" fill="#4e3226"/>
<path d="M470 600 L520 700 L450 705Z" fill="#c8856a"/>
<path d="M420 770 Q520 740 625 750 Q565 825 470 812Z" fill="#fff"/>
<path d="M405 765 Q520 722 635 745 L625 757 Q520 745 420 778Z" fill="#a85848"/>
<path d="M340 1000 Q520 1060 720 1000 L720 1125 L340 1125Z" fill="#c4806a"/>
</g>
</g></svg><span class="h" style="left:84.0px;letter-spacing:1.276px">mcuban.bsky.social</span><span class="n" style="right:1.6px;letter-spacing:-0.969px">53.<span class="d1">1</span>23</span></li>
<li><svg viewBox="0 0 72 72" role="img" aria-label="state-department avatar"><g opacity=".999">
<rect width="72" height="72" fill="#fff"/>
<circle cx="36" cy="36" r="34" fill="#f2eec8"/>
<circle cx="36" cy="36" r="33.2" fill="#14244a"/>
<circle cx="36" cy="36" r="26" fill="#fff"/>
<defs><path id="p11a" d="M8.4 36A27.6 27.6 0 0 1 63.6 36"/><path id="p11b" d="M4.2 36A31.8 31.8 0 0 0 67.8 36"/></defs>
<g font-family="'Liberation Serif',serif" fill="#eef0f6" text-anchor="middle">
<text font-size="5.4"><textPath href="#p11a" startOffset="50%" textLength="68" lengthAdjust="spacingAndGlyphs">DEPARTMENT OF STATE</textPath></text>
<text font-size="5.2"><textPath href="#p11b" startOffset="50%" textLength="93" lengthAdjust="spacing">UNITED STATES OF AMERICA</textPath></text>
</g>
<circle cx="6.6" cy="32.4" r=".8" fill="#fff"/><circle cx="65.4" cy="32.4" r=".8" fill="#fff"/>
<g transform="translate(-4 -4) scale(.071111)">
<circle cx="565" cy="340" r="112" fill="#fff" stroke="#c0c6d8" stroke-width="10"/>
<circle cx="565" cy="335" r="68" fill="#7dc0ea"/>
<path d="M285 395 Q400 380 470 480 Q510 560 500 640 L480 760 Q420 720 380 640 Q320 540 310 450Z" fill="#8b5a2f"/>
<path d="M845 395 Q730 380 660 480 Q620 560 630 640 L650 760 Q710 720 750 640 Q810 540 820 450Z" fill="#8b5a2f"/>
<path d="M350 360 L520 500 L500 540 L380 430 L355 400Z" fill="#cdb749"/>
<path d="M780 360 L610 500 L630 540 L750 430 L775 400Z" fill="#cdb749"/>
<path d="M530 480 Q565 450 600 480 L610 580 L520 580Z" fill="#f6f2ea"/>
<path d="M470 540 a26 26 0 1 0 52 0 a26 26 0 1 0 -52 0 M610 540 a26 26 0 1 0 52 0 a26 26 0 1 0 -52 0" fill="#fff"/>
<path d="M498 590 L640 590 L640 720 Q610 770 569 780 Q528 770 498 720Z" fill="#f4eaea"/>
<path d="M498 590 L640 590 L640 645 L498 645Z" fill="#1b2a72"/>
<path d="M510 645 h17 v115 h-17z M544 645 h17 v130 h-17z M578 645 h17 v130 h-17z M612 645 h17 v105 h-17z" fill="#c4485a"/>
<path d="M240 600 L300 590 L370 680 L380 740 L330 790 L280 720Z" fill="#2c7b4c"/>
<path d="M330 790 L410 740 L430 770 L400 850Z" fill="#8b5a2f"/>
<path d="M760 700 L800 610 L880 600 L880 690 L810 740Z" fill="#9a9a9a"/>
<path d="M720 760 L790 730 L780 790 L740 800Z" fill="#8b5a2f"/>
<path d="M420 760 L500 700 L500 770Z M710 760 L640 700 L640 770Z" fill="#8b5a2f"/>
<path d="M470 820 Q565 770 720 800 L730 830 Q600 900 480 860Z" fill="#d4d4d8"/>
</g>
</g></svg><span class="h" style="left:85.0px;letter-spacing:1.332px">state<span class="hy">-</span>department.bsky.social</span><span class="n" style="right:0.6px;letter-spacing:-0.072px">49.940</span></li>
<li><svg viewBox="0 0 72 72" role="img" aria-label="hhsofficial avatar"><g opacity=".999">
<rect width="72" height="72" fill="#1f57a5"/>
<g transform="translate(-4 -4) scale(.071111)" fill="none" stroke="#fff" stroke-linecap="round" stroke-linejoin="round">
<path d="M800 228 C810 300 760 330 700 370 C620 420 540 450 495 490 C450 540 470 590 420 620 C370 640 310 600 268 632" stroke-width="46"/>
<path d="M850 300 C850 370 780 410 700 455 C640 490 570 510 540 560 C510 610 535 640 498 668 C520 700 518 730 545 752 C580 770 620 770 640 780" stroke-width="46"/>
<path d="M815 432 C810 490 740 520 680 550 C630 575 600 590 595 640 C590 680 610 700 622 722 C680 700 720 730 760 752 C800 766 830 750 850 738" stroke-width="46"/>
<path d="M205 662 C300 690 420 770 485 815 C510 850 440 890 432 930 C430 965 480 965 500 945" stroke-width="48"/>
<path d="M640 780 C600 830 535 850 540 888 C550 920 590 912 612 902" stroke-width="44"/>
</g>
</g></svg><span class="h" style="left:84.0px;letter-spacing:1.309px">hhsofficial.bsky.social</span><span class="n" style="right:3.6px;letter-spacing:-1.305px">48.62<span class="d1">1</span></span></li>
<li><svg viewBox="0 0 72 72" role="img" aria-label="commerce-gov avatar"><g opacity=".999">
<rect width="72" height="72" fill="#2487cf"/>
<circle cx="36" cy="36" r="28.2" fill="#fff"/>
<defs><path id="p13a" d="M6.6 36A29.4 29.4 0 0 1 65.4 36"/><path id="p13b" d="M1.9 36A34.1 34.1 0 0 0 70.1 36"/></defs>
<g font-family="'Liberation Sans',sans-serif" font-weight="700" fill="#fff" text-anchor="middle">
<text font-size="6.4"><textPath href="#p13a" startOffset="50%" textLength="79" lengthAdjust="spacingAndGlyphs">DEPARTMENT OF COMMERCE</textPath></text>
<text font-size="6.4"><textPath href="#p13b" startOffset="50%" textLength="86" lengthAdjust="spacingAndGlyphs">UNITED STATES OF AMERICA</textPath></text>
</g>
<circle cx="3.9" cy="36.6" r=".9" fill="#fff"/><circle cx="68.1" cy="36.6" r=".9" fill="#fff"/>
<g transform="translate(-4 -4) scale(.071111)">
<path d="M420 225 Q470 250 520 330 Q545 280 563 285 Q585 280 605 330 Q650 250 705 225 Q700 330 640 400 L620 440 L510 440 L490 400 Q430 330 420 225Z" fill="#b08a2e"/>
<path d="M540 300 Q563 280 590 300 L585 420 L545 420Z" fill="#e0c060"/>
<path d="M470 435 h185 v14 h-185z" fill="#3a3020"/>
<path d="M340 465 L785 465 L770 495 L760 800 Q700 860 563 910 Q430 860 365 800 L355 495Z" fill="#2a3a30"/>
<path d="M365 480 L760 480 L752 660 L372 660Z" fill="#2b82c9"/>
<path d="M372 668 L752 668 L748 795 Q690 850 563 895 Q440 850 378 795Z" fill="#f2c341"/>
<path d="M410 585 L480 545 L500 520 L660 520 L690 610 L480 625Z" fill="#fff"/>
<path d="M520 540 h30 v40 h-30z M570 540 h30 v40 h-30z M620 545 h26 v36 h-26z" fill="#9ec4e6"/>
<path d="M480 625 L690 612 L680 640 L500 645Z" fill="#16324e"/>
<path d="M540 690 h40 v170 h-40z" fill="#b89a64"/>
<path d="M520 850 h80 v30 h-80z" fill="#8a8a80"/>
</g>
</g></svg><span class="h" style="left:84.0px;letter-spacing:1.463px">commerce<span class="hy">-</span>gov.bsky.social</span><span class="n" style="right:1.6px;letter-spacing:-1.417px">4<span class="d7">7</span>.<span class="d1">1</span>30</span></li>
<li><svg viewBox="0 0 72 72" role="img" aria-label="dol.gov avatar"><g opacity=".999">
<rect width="72" height="72" fill="#1b2a68"/>
<g fill="none" stroke="#b4bce4">
<circle cx="36" cy="36" r="27.4" stroke-width=".9"/>
<circle cx="36" cy="36" r="21.2" stroke-width=".9"/>
</g>
<defs><path id="p14a" d="M13.4 36A22.6 22.6 0 0 1 58.6 36"/><path id="p14b" d="M9.8 36A26.2 26.2 0 0 0 62.2 36"/></defs>
<g font-family="'Liberation Serif',serif" fill="#c3c9ea" text-anchor="middle">
<text font-size="4.6"><textPath href="#p14a" startOffset="50%" textLength="60" lengthAdjust="spacing">DEPARTMENT OF LABOR</textPath></text>
<text font-size="4.4"><textPath href="#p14b" startOffset="50%" textLength="72" lengthAdjust="spacing">UNITED STATES OF AMERICA</textPath></text>
</g>
<circle cx="11.8" cy="34.4" r=".5" fill="#c3c9ea"/><circle cx="60.2" cy="34.4" r=".5" fill="#c3c9ea"/>
<g transform="translate(-4 -4) scale(.071111)">
<path d="M420 335 Q480 350 540 440 Q563 410 585 440 Q640 350 700 335 Q690 430 630 500 L620 530 L505 530 L495 500 Q430 430 420 335Z" fill="#aab2dc" opacity=".85"/>
<path d="M480 535 h160 v14 h-160z" fill="#c3c9ea"/>
<path d="M432 562 L690 562 L686 760 Q640 810 561 832 Q482 810 436 760Z" fill="none" stroke="#c3c9ea" stroke-width="13"/>
<path d="M436 640 L686 640 M438 718 L684 718" stroke="#c3c9ea" stroke-width="11" fill="none"/>
<path d="M480 585 h150 v36 h-150z M470 665 h170 v34 h-170z M480 740 h150 v30 h-150z" fill="#8a94c8" opacity=".8"/>
</g>
</g></svg><span class="h" style="left:84.0px;letter-spacing:0.87px">dol.gov</span><span class="n" style="right:-0.4px;letter-spacing:-0.072px">46.903</span></li>
<li><svg viewBox="0 0 72 72" role="img" aria-label="us-dot avatar"><g opacity=".999">
<rect width="72" height="72" fill="#fff"/>
<g fill="#0b3f8b">
<path d="M20.3 3.3C21.2 3.9 24.0 5.3 25.9 6.7C27.8 8.1 30.1 9.8 31.6 11.6C33.1 13.4 34.2 15.4 34.8 17.3C35.4 19.2 35.6 21.1 35.1 23.0C34.6 24.9 33.4 27.0 31.6 28.7C29.8 30.4 26.8 31.7 24.4 33.0C22.0 34.3 19.2 35.1 17.3 36.5C15.4 37.9 14.1 39.2 13.1 41.5C12.1 43.8 11.4 47.1 11.3 50.0C11.2 52.9 11.7 55.9 12.4 58.6C13.1 61.3 15.2 64.8 15.7 66.1A36.3 36.3 0 0 1 20.3 3.3 Z"/>
<path d="M20.3 3.3C22.1 3.6 28.5 4.0 31.6 5.2C34.7 6.4 36.8 8.2 38.7 10.2C40.6 12.2 42.0 14.9 42.9 17.3C43.8 19.7 44.1 22.0 44.4 24.4C44.6 26.8 43.9 29.2 44.4 31.6C44.9 34.0 45.8 36.7 47.2 38.7C48.6 40.7 50.8 42.5 52.9 43.6C55.0 44.7 57.6 45.3 60.0 45.1C62.4 44.9 65.1 43.3 67.1 42.2C69.1 41.1 71.3 39.3 72.2 38.7A36.3 36.3 0 0 0 20.3 3.3 Z"/>
<path d="M72.2 38.7C70.9 40.4 66.8 46.4 64.3 48.6C61.8 50.8 59.6 51.6 57.2 52.2C54.8 52.9 52.4 52.9 50.0 52.5C47.6 52.1 45.3 51.2 42.9 50.0C40.5 48.8 38.2 46.3 35.8 45.1C33.4 43.9 30.9 43.0 28.7 42.9C26.4 42.8 24.2 43.3 22.3 44.4C20.4 45.5 18.4 47.3 17.3 49.3C16.2 51.3 16.0 54.2 15.9 56.5C15.8 58.8 16.6 61.3 16.6 62.9C16.6 64.5 15.9 65.6 15.7 66.1A36.3 36.3 0 0 0 72.2 38.7 Z"/>
</g>
</g></svg><span class="h" style="left:83.0px;letter-spacing:1.372px">us<span class="hy">-</span>dot.bsky.social</span><span class="n" style="right:1.6px;letter-spacing:-0.632px">46.<span class="d7">7</span><span class="d1">1</span><span class="d7">7</span></span></li>
<li><svg viewBox="0 0 72 72" role="img" aria-label="felipeneto avatar"><g transform="translate(-4 -4) scale(.071111)" opacity=".999">
<rect width="1125" height="1125" fill="#d3d6d9"/>
<g filter="url(#b30)">
<path d="M215 540 L380 500 L420 860 L230 900Z" fill="#8f8078"/>
<path d="M780 420 L940 440 L940 800 L800 800Z" fill="#c9ccd0"/>
</g>
<g filter="url(#b8)">
<path d="M200 915 Q320 850 420 810 L780 790 Q880 840 960 885 Q900 1000 760 1080 L400 1080 Q260 1010 200 915Z" fill="#151515"/>
<path d="M415 790 Q600 860 775 780 L780 870 Q700 965 580 972 Q470 960 410 880Z" fill="#dcaa8c"/>
<path d="M335 420 Q330 300 420 290 Q560 260 700 300 Q770 330 765 470 Q770 620 740 720 Q680 840 560 860 Q450 840 380 740 Q330 600 335 420Z" fill="#e4b698"/>
<path d="M520 300 Q600 290 700 310 Q765 340 762 470 Q765 620 738 720 Q690 820 600 850 Q560 600 520 300Z" fill="#dca88a" opacity=".7"/>
<path d="M365 640 Q380 740 440 800 Q500 850 560 858 Q640 850 700 790 Q745 720 752 640 Q720 720 660 760 Q600 790 560 790 Q500 785 450 750 Q400 710 365 640Z" fill="#5a4030"/>
<path d="M440 690 Q500 655 560 665 Q620 655 680 690 L690 760 Q620 820 560 825 Q500 820 430 760Z" fill="#6b4c3a" opacity=".85"/>
<path d="M450 680 Q505 650 560 662 Q615 650 670 680 L660 700 Q610 680 560 688 Q510 680 460 700Z" fill="#4a3226"/>
<path d="M490 708 Q560 690 630 708 Q600 740 560 742 Q520 740 490 708Z" fill="#c98e7c"/>
<path d="M300 250 Q320 110 480 75 Q620 58 720 130 Q800 190 815 300 Q812 400 792 480 L760 440 Q758 350 700 312 Q600 280 500 310 Q400 330 352 410 L332 480 Q300 380 300 250Z" fill="#1b1a1a"/>
<path d="M378 470 Q440 440 505 478 L500 505 Q440 475 383 500Z M588 478 Q650 440 722 470 L717 500 Q650 475 593 505Z" fill="#2a1c18"/>
<ellipse cx="445" cy="512" rx="32" ry="13" fill="#4a372e"/><ellipse cx="655" cy="512" rx="32" ry="13" fill="#4a372e"/>
<path d="M535 510 L575 635 L505 640Z" fill="#d09f82"/>
<circle cx="778" cy="575" r="12" fill="#111"/>
</g>
</g></svg><span class="h" style="left:84.0px;letter-spacing:1.3px">felipeneto.com.br</span><span class="n" style="right:1.6px;letter-spacing:-0.184px">44.45<span class="d7">7</span></span></li>
<li><svg viewBox="0 0 72 72" role="img" aria-label="homelandcbp avatar"><g opacity=".999">
<rect width="72" height="72" fill="#fff"/>
<circle cx="36" cy="36" r="34.4" fill="#fff" stroke="#939393" stroke-width="2.6"/>
<circle cx="36" cy="36.4" r="25.6" fill="#a4a4a6" stroke="#c64a5a" stroke-width=".8"/>
<circle cx="36" cy="36.4" r="26.8" fill="none" stroke="#c64a5a" stroke-width=".5"/>
<defs><path id="p17a" d="M7.86 39.36 A28.3 28.3 0 1 1 64.14 39.36"/><path id="p17b" d="M4 36.4A32 32 0 0 0 68 36.4"/></defs>
<g font-family="'Liberation Serif',serif" fill="#1f5a9a" text-anchor="middle" stroke="#1f5a9a" stroke-width=".16">
<text font-size="5.3"><textPath href="#p17a" startOffset="50%" textLength="94" lengthAdjust="spacingAndGlyphs">U.S. CUSTOMS AND BORDER PROTECTION</textPath></text>
<text font-size="5"><textPath href="#p17b" startOffset="50%" textLength="84" lengthAdjust="spacingAndGlyphs">DEPARTMENT OF HOMELAND SECURITY</textPath></text>
</g>
<g transform="translate(-4 -4) scale(.071111)">
<circle cx="575" cy="365" r="115" fill="#f2f4f8"/>
<path d="M480 300 L540 290 L560 400 L510 420 L470 360Z M580 290 L640 300 L620 360 L590 350Z M660 330 L700 350 L710 420 L680 410Z" fill="#1f5a9a"/>
<path d="M380 330 L560 470 M760 330 L590 470" stroke="#6a9a5a" stroke-width="10" fill="none"/>
<path d="M245 370 Q330 370 410 430 Q470 500 465 560 L440 690 Q380 670 330 600 Q270 500 245 370Z" fill="#1f5a9a"/>
<path d="M880 370 Q795 370 715 430 Q655 500 660 560 L685 690 Q745 670 795 600 Q855 500 880 370Z" fill="#1f5a9a"/>
<path d="M440 500 Q500 440 563 460 Q630 440 690 500 L690 600 L440 600Z" fill="#f4f6fa"/>
<path d="M510 500 Q540 470 580 480 Q610 500 600 560 L520 560 L545 520Z" fill="#1f5a9a"/>
<path d="M452 580 L672 580 L672 740 Q630 800 563 815 Q495 800 452 740Z" fill="#f6eef0"/>
<path d="M452 580 Q563 560 672 580 L672 650 L452 650Z" fill="#1f5a9a"/>
<path d="M470 615 h180" stroke="#dfe8f4" stroke-width="12" stroke-dasharray="14 12" fill="none"/>
<path d="M470 655 h22 v120 h-22z M515 655 h22 v145 h-22z M560 655 h22 v150 h-22z M605 655 h22 v140 h-22z M648 655 h18 v110 h-18z" fill="#d6465a"/>
<path d="M280 790 Q360 740 450 750 L440 800 Q360 800 300 830Z M850 790 Q770 740 680 750 L690 800 Q770 800 830 830Z" fill="#1f5a9a"/>
<path d="M440 800 Q563 770 690 800 L680 850 Q563 880 450 850Z" fill="#1f5a9a"/>
</g>
</g></svg><span class="h" style="left:84.0px;letter-spacing:1.319px">homelandcbp.bsky.social</span><span class="n" style="right:1.6px;letter-spacing:-0.408px">43.550</span></li>
</ul>
<div class="cut"></div>
</body>
</html>
